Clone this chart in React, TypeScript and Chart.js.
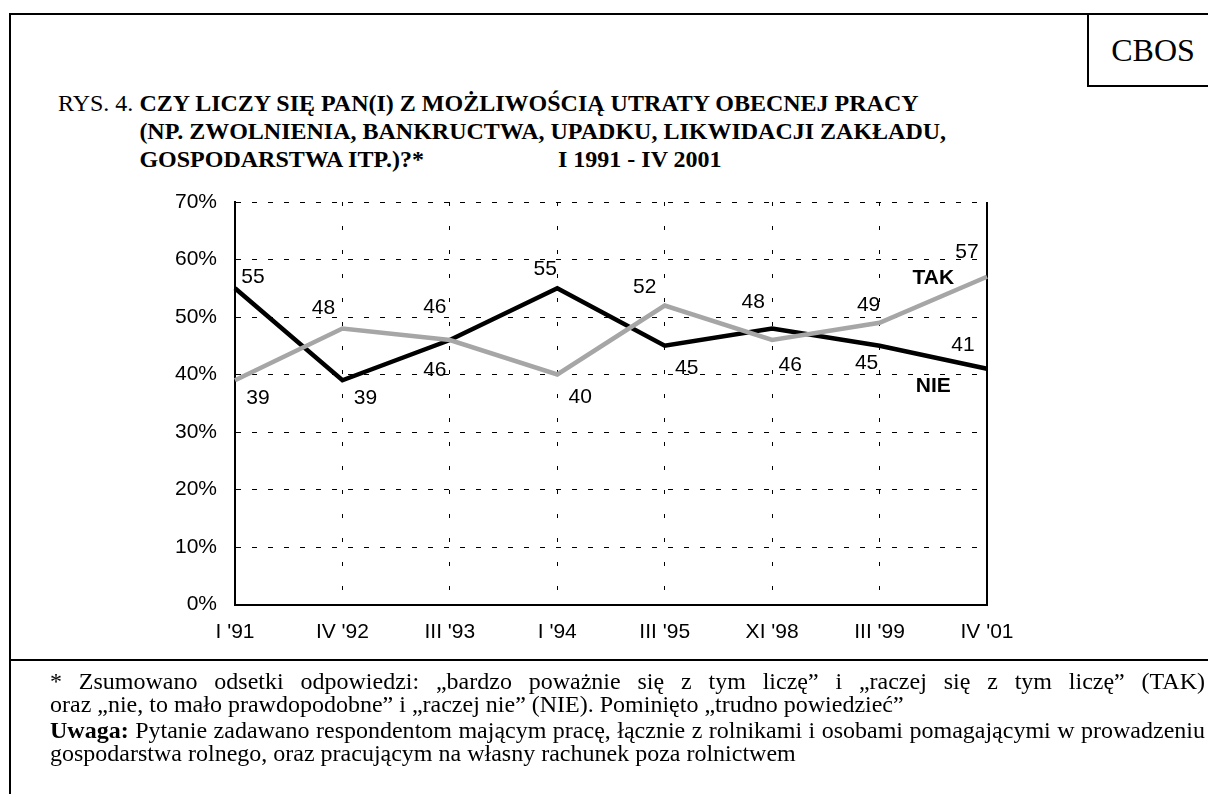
import React, { useEffect, useRef } from "react";
import { Chart, registerables } from "chart.js";

Chart.register(...registerables);

// ---- data ----
const CATEGORIES = ["I '91", "IV '92", "III '93", "I '94", "III '95", "XI '98", "III '99", "IV '01"];
const TAK_VALUES = [39, 48, 46, 40, 52, 46, 49, 57];
const NIE_VALUES = [55, 39, 46, 55, 45, 48, 45, 41];
const Y_MIN = 0;
const Y_MAX = 70;
const Y_STEP = 10;
const SERIES_NAMES = ["TAK", "NIE"];

// ---- label placement (pixel offsets from each point, styling only) ----
const TAK_LABEL_OFFSETS = [[23, 18], [-19, -20], [-15, -33], [23, 23], [-20, -18], [18, 25], [-11, -18], [-20, -25]];
const NIE_LABEL_OFFSETS = [[18, -11], [23, 18], [-15, 30], [-12, -19], [22, 22], [-19, -26], [-13, 17], [-24, -24]];
// series name anchors in data coordinates (category index, value)
const SERIES_NAME_ANCHORS = [[6.5, 56.8], [6.5, 38.0]];

const SANS = '"Liberation Sans", Arial, sans-serif';
const SERIF = '"Liberation Serif", "Times New Roman", serif';
const TICK_SIZE = 21;

const labelPlugin = {
  id: "valueLabels",
  beforeDatasetsDraw(chart: any) {
    const { ctx, chartArea } = chart;
    ctx.save();
    ctx.strokeStyle = "#000";
    ctx.lineWidth = 2;
    ctx.beginPath();
    ctx.moveTo(chartArea.right, chartArea.top);
    ctx.lineTo(chartArea.right, chartArea.bottom + 1);
    ctx.stroke();
    ctx.restore();
  },
  afterDatasetsDraw(chart: any) {
    const ctx = chart.ctx;
    ctx.save();
    ctx.fillStyle = "#000";
    ctx.textAlign = "center";
    ctx.textBaseline = "middle";
    ctx.font = `${TICK_SIZE}px ${SANS}`;
    chart.data.datasets.forEach((ds: any, i: number) => {
      const meta = chart.getDatasetMeta(i);
      meta.data.forEach((pt: any, j: number) => {
        const [dx, dy] = ds.labelOffsets[j];
        ctx.fillText(String(ds.data[j]), pt.x + dx, pt.y + dy);
      });
    });
    ctx.font = `bold ${TICK_SIZE}px ${SANS}`;
    const xs = chart.scales.x;
    const ys = chart.scales.y;
    SERIES_NAMES.forEach((name, i) => {
      const [cx, cy] = SERIES_NAME_ANCHORS[i];
      ctx.fillText(name, xs.getPixelForValue(cx), ys.getPixelForValue(cy));
    });
    ctx.restore();
  },
};

function LineChart() {
  const ref = useRef<HTMLCanvasElement | null>(null);
  useEffect(() => {
    if (!ref.current) return;
    const chart = new Chart(ref.current, {
      type: "line",
      data: {
        labels: CATEGORIES,
        datasets: [
          {
            label: SERIES_NAMES[0],
            data: TAK_VALUES,
            borderColor: "#a6a6a6",
            borderWidth: 4.5,
            pointRadius: 0,
            tension: 0,
            fill: false,
            labelOffsets: TAK_LABEL_OFFSETS,
          } as any,
          {
            label: SERIES_NAMES[1],
            data: NIE_VALUES,
            borderColor: "#000000",
            borderWidth: 4.5,
            pointRadius: 0,
            tension: 0,
            fill: false,
            labelOffsets: NIE_LABEL_OFFSETS,
          } as any,
        ],
      },
      options: {
        animation: false,
        responsive: false,
        devicePixelRatio: 1,
        layout: { padding: { left: 0, top: 202, right: 221, bottom: 0 } },
        plugins: { legend: { display: false }, tooltip: { enabled: false } },
        scales: {
          x: {
            type: "category",
            offset: false,
            grid: { color: "#000", lineWidth: 1, drawTicks: false },
            border: { display: true, color: "#000", width: 2, dash: [4, 20] },
            ticks: {
              color: "#000",
              font: { family: SANS, size: TICK_SIZE },
              padding: 15,
              maxRotation: 0,
              autoSkip: false,
            },
            afterFit: (s: any) => {
              s.height = 794 - 604.5;
            },
          },
          y: {
            min: Y_MIN,
            max: Y_MAX,
            grid: { color: "#000", lineWidth: 1, drawTicks: false },
            border: { display: true, color: "#000", width: 2, dash: [5, 11] },
            ticks: {
              stepSize: Y_STEP,
              color: "#000",
              font: { family: SANS, size: TICK_SIZE },
              padding: 18,
              callback: (v: any) => `${v}%`,
            },
            afterFit: (s: any) => {
              s.width = 235;
            },
          },
        },
      },
      plugins: [labelPlugin],
    });
    return () => chart.destroy();
  }, []);
  return (
    <canvas
      ref={ref}
      width={1208}
      height={794}
      style={{ position: "absolute", left: 0, top: 0, width: 1208, height: 794 }}
    />
  );
}

const FN_SCALE = 1.0667;
const FN_WIDTH = 1155 / FN_SCALE;

export default function App() {
  const abs = (s: React.CSSProperties): React.CSSProperties => ({ position: "absolute", ...s });
  const fnBox = (top: number): React.CSSProperties =>
    abs({
      left: 50,
      top,
      width: FN_WIDTH,
      fontSize: 22.5,
      lineHeight: "22.5px",
      transform: `scaleX(${FN_SCALE})`,
      transformOrigin: "left top",
    });
  return (
    <div
      style={{
        position: "fixed",
        left: 0,
        top: 0,
        width: 1208,
        height: 794,
        background: "#fff",
        overflow: "hidden",
        color: "#000",
        fontFamily: SERIF,
      }}
    >
      {/* frame */}
      <div style={abs({ left: 9, top: 13, width: 1300, height: 2, background: "#000" })} />
      <div style={abs({ left: 9, top: 13, width: 2, height: 900, background: "#000" })} />
      <div style={abs({ left: 9, top: 659, width: 1300, height: 2, background: "#000" })} />
      {/* CBOS box */}
      <div style={abs({ left: 1087, top: 13, width: 2, height: 74, background: "#000" })} />
      <div style={abs({ left: 1087, top: 85, width: 200, height: 2, background: "#000" })} />
      <div style={abs({ left: 1093, top: 32, width: 120, textAlign: "center", fontSize: 32, lineHeight: "36px" })}>CBOS</div>

      {/* title */}
      <div style={abs({ left: 58, top: 89, fontSize: 24, lineHeight: "28px", display: "flex", whiteSpace: "pre" })}>
        <span>RYS. 4. </span>
        <div style={{ fontWeight: "bold" }}>
          <div>CZY LICZY SIĘ PAN(I) Z MOŻLIWOŚCIĄ UTRATY OBECNEJ PRACY</div>
          <div>(NP. ZWOLNIENIA, BANKRUCTWA, UPADKU, LIKWIDACJI ZAKŁADU,</div>
          <div>GOSPODARSTWA ITP.)?*</div>
        </div>
      </div>
      <div style={abs({ left: 558, top: 145, fontSize: 24, lineHeight: "28px", fontWeight: "bold", whiteSpace: "pre" })}>
        I 1991 - IV 2001
      </div>

      <LineChart />

      {/* footnotes */}
      <div style={fnBox(671)}>
        <div style={{ textAlign: "justify", textAlignLast: "justify" }}>
          * Zsumowano odsetki odpowiedzi: „bardzo poważnie się z tym liczę” i „raczej się z tym liczę” (TAK)
        </div>
        <div>oraz „nie, to mało prawdopodobne” i „raczej nie” (NIE). Pominięto „trudno powiedzieć”</div>
      </div>
      <div style={fnBox(720)}>
        <div style={{ textAlign: "justify", textAlignLast: "justify" }}>
          <b>Uwaga:</b> Pytanie zadawano respondentom mającym pracę, łącznie z rolnikami i osobami pomagającymi w prowadzeniu
        </div>
        <div>gospodarstwa rolnego, oraz pracującym na własny rachunek poza rolnictwem</div>
      </div>
    </div>
  );
}
